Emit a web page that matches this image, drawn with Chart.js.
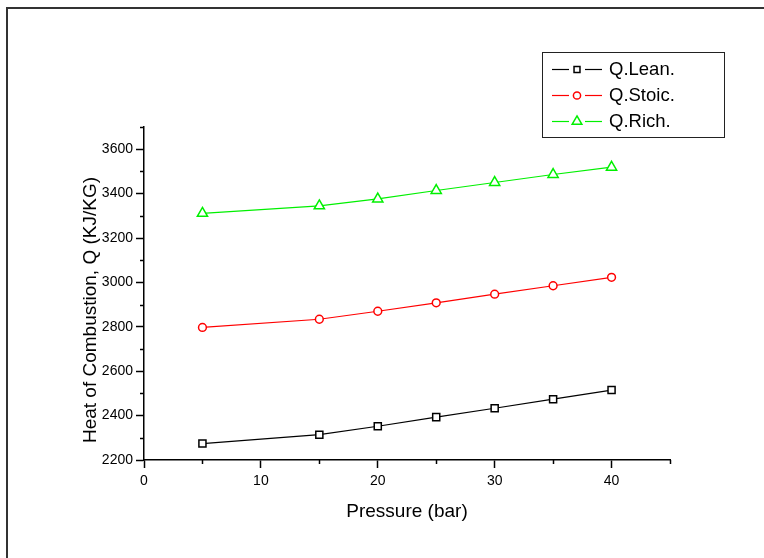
<!DOCTYPE html>
<html>
<head>
<meta charset="utf-8">
<script src="https://cdn.jsdelivr.net/npm/chart.js@4.4.1/dist/chart.umd.min.js"></script>
<style>
  html, body { margin: 0; padding: 0; background: #fff; }
  #wrap { position: relative; width: 764px; height: 558px; }
  canvas { display: block; }
</style>
</head>
<body>
<div id="wrap"><canvas id="c" width="764" height="558"></canvas></div>
<script>
// ---- data ----
const pressure = [5, 15, 20, 25, 30, 35, 40];
const qLean  = [2274, 2314, 2352, 2393, 2433, 2474, 2515];
const qStoic = [2797, 2834, 2870, 2908, 2947, 2985, 3023];
const qRich  = [3311, 3345, 3376, 3414, 3450, 3486, 3519];
const seriesNames = ['Q.Lean.', 'Q.Stoic.', 'Q.Rich.'];
const xTitle = 'Pressure (bar)';
const yTitle = 'Heat of Combustion, Q (KJ/KG)';

const FONT = '"Liberation Sans", Arial, sans-serif';
const toPts = arr => arr.map((v, i) => ({ x: pressure[i], y: v }));

function ds(label, values, color, style, radius) {
  return {
    label, data: toPts(values),
    borderColor: color, borderWidth: 1.2,
    pointStyle: style, pointRadius: radius, pointHoverRadius: radius,
    pointBorderColor: color, pointBackgroundColor: '#ffffff', pointBorderWidth: 1.5,
    fill: false, tension: 0
  };
}

const datasets = [
  ds(seriesNames[0], qLean, '#000000', 'rect', 5),
  ds(seriesNames[1], qStoic, '#ff0000', 'circle', 3.9),
  ds(seriesNames[2], qRich, '#00f000', 'triangle', 5.9)
];

// minor ticks + frame + legend box + y title
const extras = {
  id: 'extras',
  afterDraw(chart) {
    const ctx = chart.ctx;
    const xs = chart.scales.x, ys = chart.scales.y;
    ctx.save();
    ctx.strokeStyle = '#000';
    ctx.lineWidth = 1.5;
    // minor ticks y
    for (let v = 2300; v <= 3700; v += 200) {
      const p = Math.round(ys.getPixelForValue(v)) + 0.5;
      ctx.beginPath(); ctx.moveTo(xs.left - 4, p); ctx.lineTo(xs.left, p); ctx.stroke();
    }
    // minor ticks x
    for (let v = 5; v <= 45; v += 10) {
      const p = Math.round(xs.getPixelForValue(v)) + 0.5;
      ctx.beginPath(); ctx.moveTo(p, ys.bottom); ctx.lineTo(p, ys.bottom + 4); ctx.stroke();
    }
    // outer frame (left + top)
    ctx.strokeStyle = '#333';
    ctx.lineWidth = 2;
    ctx.beginPath(); ctx.moveTo(7, 558); ctx.lineTo(7, 8); ctx.lineTo(764, 8); ctx.stroke();

    // y axis title
    ctx.save();
    ctx.translate(91, 310);
    ctx.rotate(-Math.PI / 2);
    ctx.font = '19px ' + FONT;
    ctx.fillStyle = '#000';
    ctx.textAlign = 'center';
    ctx.textBaseline = 'middle';
    ctx.fillText(yTitle, 0, 0);
    ctx.restore();

    // legend box
    const bx = 542, by = 52, bw = 182, bh = 85;
    ctx.strokeStyle = '#222';
    ctx.lineWidth = 1;
    ctx.strokeRect(bx + 0.5, by + 0.5, bw, bh);
    const rows = [69, 95, 121];
    ctx.font = '18.5px ' + FONT;
    ctx.textBaseline = 'middle';
    ctx.textAlign = 'left';
    chart.data.datasets.forEach((d, i) => {
      const y = rows[i] + 0.5;
      ctx.strokeStyle = d.borderColor;
      ctx.lineWidth = 1.2;
      ctx.beginPath(); ctx.moveTo(552, y); ctx.lineTo(569, y); ctx.stroke();
      ctx.beginPath(); ctx.moveTo(585, y); ctx.lineTo(602, y); ctx.stroke();
      ctx.fillStyle = '#fff';
      ctx.strokeStyle = d.borderColor;
      ctx.lineWidth = 1.5;
      const r = d.pointStyle === 'rect' ? 4.2 : (d.pointStyle === 'circle' ? 3.6 : 5.6);
      Chart.helpers.drawPoint(ctx, { pointStyle: d.pointStyle, radius: r, rotation: 0, borderWidth: 1.5 }, 577, y);
      ctx.fillStyle = '#000';
      ctx.fillText(d.label, 609, rows[i] + 1);
    });
    ctx.restore();
  }
};

new Chart(document.getElementById('c'), {
  type: 'line',
  data: { datasets },
  options: {
    responsive: false,
    devicePixelRatio: 1,
    animation: false,
    layout: { padding: { left: 77, right: 94, top: 127, bottom: 35 } },
    plugins: { legend: { display: false }, tooltip: { enabled: false } },
    scales: {
      x: {
        type: 'linear', min: 0, max: 45,
        afterFit(s) { s.height = 63; },
        ticks: { stepSize: 10, includeBounds: false, color: '#000', padding: 5,
                 font: { family: FONT, size: 14 }, maxRotation: 0,
                 callback: v => String(v) },
        grid: { drawOnChartArea: false, drawTicks: true, tickLength: 8, tickColor: '#000', tickWidth: 1.5 },
        border: { display: true, color: '#000', width: 1.5 },
        title: { display: true, text: xTitle, color: '#000', padding: 0,
                 font: { family: FONT, size: 19 } }
      },
      y: {
        type: 'linear', min: 2200, max: 3700,
        afterFit(s) { s.width = 67; },
        ticks: { stepSize: 200, includeBounds: false, color: '#000', padding: 3,
                 font: { family: FONT, size: 14 },
                 callback: v => String(v) },
        grid: { drawOnChartArea: false, drawTicks: true, tickLength: 8, tickColor: '#000', tickWidth: 1.5 },
        border: { display: true, color: '#000', width: 1.5 },
        title: { display: false }
      }
    }
  },
  plugins: [extras]
});
</script>
</body>
</html>
